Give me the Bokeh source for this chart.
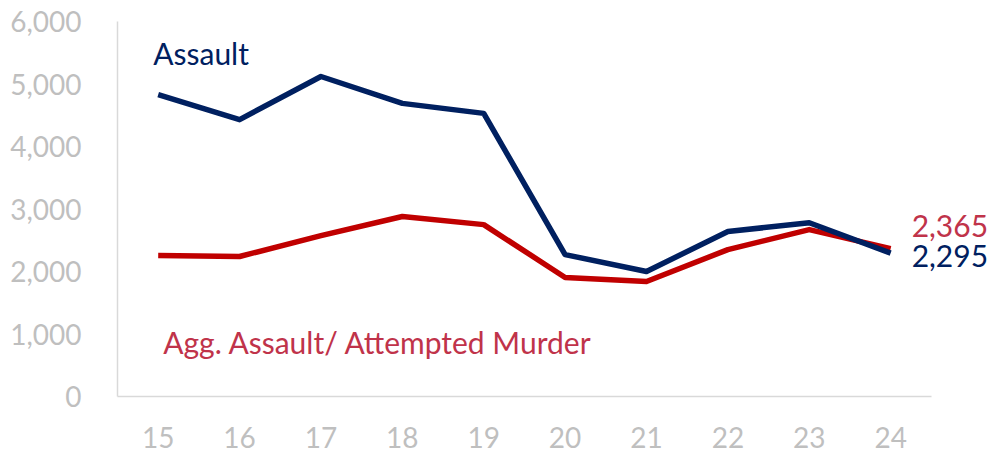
from bokeh.plotting import figure
from bokeh.models import Range1d, FixedTicker, NumeralTickFormatter, Label
from bokeh.embed import file_html
from bokeh.resources import INLINE

years = ["15", "16", "17", "18", "19", "20", "21", "22", "23", "24"]
assault = [4830, 4430, 5120, 4690, 4530, 2270, 2000, 2640, 2780, 2295]
agg_assault = [2255, 2240, 2575, 2880, 2750, 1905, 1840, 2350, 2670, 2365]
y_ticks = [0, 1000, 2000, 3000, 4000, 5000, 6000]

NAVY = "#002060"
RED = "#C00000"
RED_TXT = "#C0334A"
GRAY = "#BFBFBF"
FONT = "Lato"

xs = list(range(len(years)))

p = figure(width=989, height=453, x_range=Range1d(-0.5, 10.19),
           y_range=Range1d(0, 6000), output_backend="svg", toolbar_location=None,
           min_border_left=117, min_border_right=2, min_border_top=21, min_border_bottom=57)
p.outline_line_color = None
p.grid.visible = False

for ax in (p.xaxis, p.yaxis):
    ax.axis_line_color = "#D9D9D9"
    ax.axis_line_width = 1.5
    ax.major_tick_line_color = None
    ax.minor_tick_line_color = None
    ax.major_label_text_color = GRAY
    ax.major_label_text_font = FONT
    ax.major_label_text_font_size = "28px"
p.yaxis.ticker = FixedTicker(ticks=y_ticks)
p.yaxis.formatter = NumeralTickFormatter(format="0,0")
p.yaxis.major_label_standoff = 30
p.xaxis.ticker = FixedTicker(ticks=xs)
p.xaxis.major_label_overrides = {i: y for i, y in zip(xs, years)}
p.xaxis.bounds = (xs[0] - 0.5, xs[-1] + 0.5)
p.xaxis.major_label_standoff = 24

p.line(xs, agg_assault, line_color=RED, line_width=5.5, line_join="round")
p.line(xs, assault, line_color=NAVY, line_width=5.5, line_join="round")

def add_label(x, y, text, color, x_off, y_off):
    p.add_layout(Label(x=x, y=y, text=text, text_color=color, text_font=FONT,
                       text_font_size="30px", text_baseline="middle", text_align="left",
                       x_offset=x_off, y_offset=y_off))

add_label(xs[0], 5490, "Assault", NAVY, -5, 0)
add_label(xs[0], 880, "Agg. Assault/ Attempted Murder", RED_TXT, 5, 0)
add_label(xs[-1], agg_assault[-1], f"{agg_assault[-1]:,}", RED_TXT, 21, 23)
add_label(xs[-1], assault[-1], f"{assault[-1]:,}", NAVY, 21, -3)

open("out.html", "w").write(file_html(p, INLINE))
